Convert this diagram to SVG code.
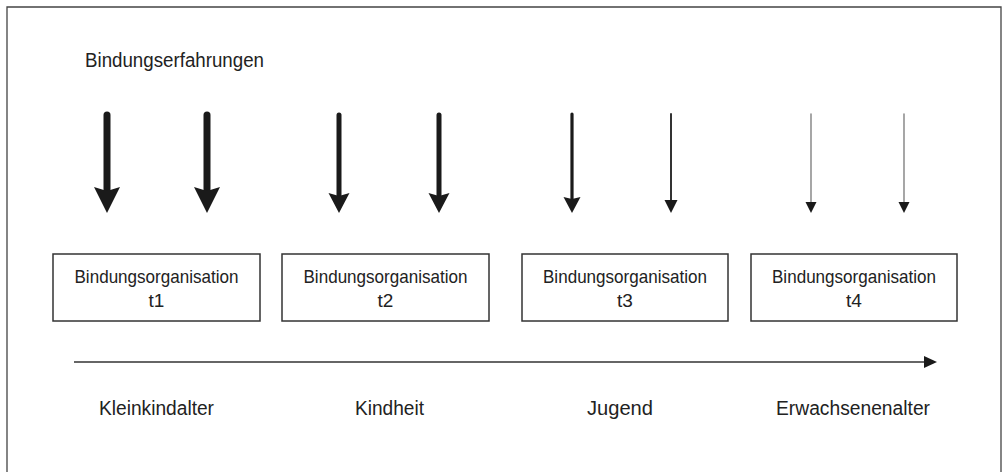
<svg xmlns="http://www.w3.org/2000/svg" width="1003" height="472" viewBox="0 0 1003 472">
<style>
.t{font-family:"Liberation Sans",Arial,sans-serif;fill:#222;}
.lbl{font-size:20px;}
.bx{font-size:19px;text-anchor:middle;}
.box{fill:#fff;stroke:#333;stroke-width:1.5;}
.head{fill:#1a1a1a;}
</style>
<rect width="1003" height="472" fill="#fff"/>
<path d="M7,472 V7 H1001 V472" fill="none" stroke="#444" stroke-width="1.3"/>
<text class="t lbl" x="85" y="67" textLength="179" lengthAdjust="spacingAndGlyphs">Bindungserfahrungen</text>
<g id="connectors">
  <g stroke="#1a1a1a" stroke-linecap="round">
    <line x1="107" y1="115" x2="107" y2="192" stroke-width="7"/>
    <line x1="207" y1="115" x2="207" y2="192" stroke-width="7"/>
    <line x1="339" y1="115" x2="339" y2="196" stroke-width="5"/>
    <line x1="439" y1="115" x2="439" y2="196" stroke-width="5"/>
    <line x1="572" y1="114" x2="572" y2="200" stroke-width="3.2"/>
    <line x1="671" y1="114" x2="671" y2="203" stroke-width="2" stroke="#333"/>
    <line x1="811" y1="114" x2="811" y2="205" stroke-width="1.3" stroke="#777"/>
    <line x1="904" y1="114" x2="904" y2="205" stroke-width="1.3" stroke="#777"/>
  </g>
  <polygon class="head" points="94,187 107,191 120,187 107,213"/>
  <polygon class="head" points="194,187 207,191 220,187 207,213"/>
  <polygon class="head" points="328.5,193 339,196 349.5,193 339,213"/>
  <polygon class="head" points="428.5,193 439,196 449.5,193 439,213"/>
  <polygon class="head" points="563.5,197 572,199 580.5,197 572,213"/>
  <polygon class="head" points="664.5,200 677.5,200 671,213"/>
  <polygon class="head" points="805.5,202 816.5,202 811,213"/>
  <polygon class="head" points="898.5,202 909.5,202 904,213"/>
  <line x1="74" y1="362" x2="926" y2="362" stroke="#333" stroke-width="1.5"/>
  <polygon class="head" points="924,356 937,362 924,368"/>
</g>
<g id="node1">
  <rect class="box" x="53" y="254" width="207" height="67"/>
  <text class="t bx" x="156.5" y="283" textLength="164" lengthAdjust="spacingAndGlyphs">Bindungsorganisation</text>
  <text class="t bx" x="156.5" y="307">t1</text>
</g>
<g id="node2">
  <rect class="box" x="282" y="254" width="207" height="67"/>
  <text class="t bx" x="385.5" y="283" textLength="164" lengthAdjust="spacingAndGlyphs">Bindungsorganisation</text>
  <text class="t bx" x="385.5" y="307">t2</text>
</g>
<g id="node3">
  <rect class="box" x="522" y="254" width="206" height="67"/>
  <text class="t bx" x="625" y="283" textLength="164" lengthAdjust="spacingAndGlyphs">Bindungsorganisation</text>
  <text class="t bx" x="625" y="307">t3</text>
</g>
<g id="node4">
  <rect class="box" x="751" y="254" width="206" height="67"/>
  <text class="t bx" x="854" y="283" textLength="164" lengthAdjust="spacingAndGlyphs">Bindungsorganisation</text>
  <text class="t bx" x="854" y="307">t4</text>
</g>
<text class="t lbl" x="99" y="415" textLength="115" lengthAdjust="spacingAndGlyphs">Kleinkindalter</text>
<text class="t lbl" x="355" y="415" textLength="69" lengthAdjust="spacingAndGlyphs">Kindheit</text>
<text class="t lbl" x="587" y="415" textLength="66" lengthAdjust="spacingAndGlyphs">Jugend</text>
<text class="t lbl" x="776" y="415" textLength="154" lengthAdjust="spacingAndGlyphs">Erwachsenenalter</text>
</svg>
